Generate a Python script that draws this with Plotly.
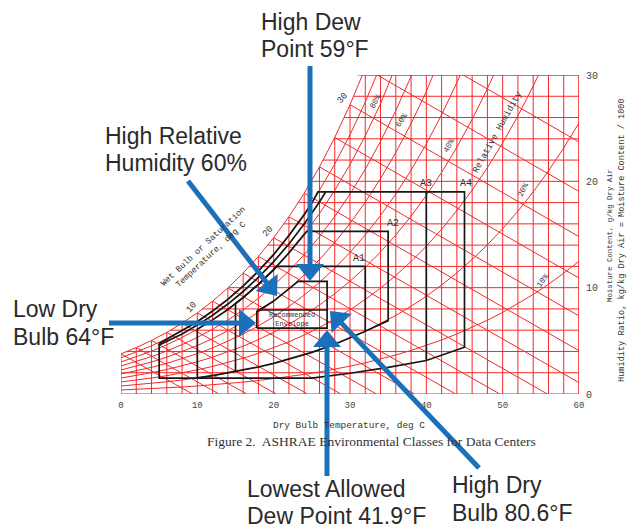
import math
import plotly.graph_objects as go

# ---------------- data ----------------
# saturation vapour pressure table (kPa) at dry-bulb temperatures (deg C)
PSAT_T = list(range(0, 62, 2))
PSAT_KPA = [0.6113, 0.7060, 0.8135, 0.9353, 1.0729, 1.2281, 1.4028, 1.5989, 1.8188,
            2.0647, 2.3392, 2.6452, 2.9856, 3.3637, 3.7828, 4.2467, 4.7592, 5.3247,
            5.9479, 6.6328, 7.3849, 8.2096, 9.1124, 10.099, 11.177, 12.352, 13.631,
            15.022, 16.533, 18.171, 19.946]
P_ATM = 101.325

DRY_BULB_GRID = list(range(0, 62, 2))        # vertical red lines
MOISTURE_GRID = list(range(0, 32, 2))        # horizontal red lines (g/kg)
RH_LINES = [0.1, 0.2, 0.3, 0.4, 0.5, 0.6, 0.7, 0.8, 0.9]
WET_BULB_LINES = list(range(0, 36, 2))

X_TICKS = [0, 10, 20, 30, 40, 50, 60]
Y_TICKS = [0, 10, 20, 30]

# ASHRAE class envelopes (dry bulb deg C, moisture g/kg)
A4_T = [5, 8, 10, 12, 14, 16, 18, 20, 22, 24, 25, 25.8, 45, 45, 40, 35, 30, 25, 5, 5]
A4_W = [4.75, 5.95, 6.8, 7.8, 8.9, 10.15, 11.55, 13.1, 14.9, 16.85, 17.95, 19.0, 19.0,
        4.4, 3.15, 2.5, 1.95, 1.5, 1.5, 4.75]
A3_T = [5, 8, 10, 12, 14, 16, 18, 20, 22, 24, 26, 26.8, None, 40, 40]
A3_W = [4.6, 5.65, 6.48, 7.41, 8.46, 9.64, 10.96, 12.45, 14.11, 15.98, 18.06, 19.0, None, 19.0, 3.15]
A2_T = [10, 10, 12, 14, 16, 18, 20, 22, 24, 24.35, 35, 35, 32, 30, 28, 25, 22, 20, 18, 15, 12, 10]
A2_W = [1.51, 6.09, 6.97, 7.95, 9.06, 10.31, 11.7, 13.27, 15.01, 15.3, 15.3, 6.9, 5.9, 5.26,
        4.68, 3.91, 3.26, 2.88, 2.54, 2.1, 1.73, 1.51]
A1_T = [15, 15, 16, 18, 20, 20.4, 32, 32]
A1_W = [2.1, 8.51, 9.06, 10.31, 11.7, 12.0, 12.0, 5.9]
REC_T = [17.8, 17.8, 20, 22, 23.2, 27, 27, 17.8, None, 17.8, 27]
REC_W = [6.2, 7.75, 8.74, 9.9, 10.6, 10.6, 6.2, 6.2, None, 7.9, 7.9]

CLASS_LABELS = ["A1", "A2", "A3", "A4"]
CLASS_LABEL_T = [31.2, 35.6, 40.0, 45.2]
CLASS_LABEL_W = [12.7, 16.05, 19.8, 19.8]

WB_LABELS = ["10", "20", "30"]
WB_LABEL_T = [9.3, 19.26, 29.08]
WB_LABEL_W = [8.18, 15.24, 27.84]

RH_LABELS = ["80%", "60%", "40%", "20%", "10%"]
RH_LABEL_T = [33.3, 36.8, 42.9, 52.7, 55.2]
RH_LABEL_W = [27.5, 25.8, 23.4, 19.2, 10.7]
RH_LABEL_ANG = [-62, -57, -62, -63, -53]

# callout lines: text, left edge pixel, baseline pixel
CALLOUT_LINES = [("High Dew", 260, 30), ("Point 59°F", 260, 57),
                 ("High Relative", 104, 144), ("Humidity 60%", 104, 171.5),
                 ("Low Dry", 12, 317.5), ("Bulb 64°F", 12, 345),
                 ("Lowest Allowed", 246, 497.3), ("Dew Point 41.9°F", 246, 524),
                 ("High Dry", 451, 493.5), ("Bulb 80.6°F", 451, 521)]

# ---------------- layout constants ----------------
W_PX, H_PX = 629, 529
L, R, T, B = 121, 50, 75, 135
PW, PH = W_PX - L - R, H_PX - T - B
RED = "rgb(246,40,40)"
BLACK = "#161616"
BLUE = "#1b71b9"
TXT = "#333333"
MONO = "Liberation Mono, DejaVu Sans Mono, monospace"
CALLOUT_SIZE = 23


def wsat(p):
    return 622.0 * p / (P_ATM - p)


def px(x):
    return (x - L) / PW


def py(y):
    return (H_PX - B - y) / PH


WS = [wsat(p) for p in PSAT_KPA]

fig = go.Figure()

# vertical dry-bulb lines
xs, ys = [], []
for i, t in enumerate(DRY_BULB_GRID):
    xs += [t, t, None]
    ys += [0, min(WS[i], 31), None]
# horizontal moisture lines
for w in MOISTURE_GRID:
    xs += [0, 60, None]
    ys += [w, w, None]
# relative humidity curves
for phi in RH_LINES:
    xs += PSAT_T + [None]
    ys += [622.0 * phi * p / (P_ATM - phi * p) for p in PSAT_KPA] + [None]
# wet bulb lines
for tw in WET_BULB_LINES:
    p = PSAT_KPA[PSAT_T.index(tw)]
    Ws = 0.622 * p / (P_ATM - p)
    t_end = tw + (2501 - 2.326 * tw) * Ws / 1.006
    xs += [tw, t_end, None]
    ys += [Ws * 1000, 0, None]
fig.add_trace(go.Scatter(x=xs, y=ys, mode="lines", line=dict(color=RED, width=1),
                         hoverinfo="skip", showlegend=False))

# white mask above saturation curve
n = PSAT_T.index(32) + 1
fig.add_trace(go.Scatter(x=PSAT_T[:n] + [32, 0], y=WS[:n] + [45, 45], mode="lines",
                         fill="toself", fillcolor="white", line=dict(width=0),
                         hoverinfo="skip", showlegend=False))
# saturation curve
fig.add_trace(go.Scatter(x=PSAT_T[:n], y=WS[:n], mode="lines", line=dict(color=RED, width=1),
                         hoverinfo="skip", showlegend=False))
# top and right border
fig.add_trace(go.Scatter(x=[31, 60, 60], y=[30, 30, 0], mode="lines",
                         line=dict(color=RED, width=1.2), hoverinfo="skip", showlegend=False))

# class envelopes
for tx, wy in [(A4_T, A4_W), (A3_T, A3_W), (A2_T, A2_W), (A1_T, A1_W), (REC_T, REC_W)]:
    fig.add_trace(go.Scatter(x=tx, y=wy, mode="lines", line=dict(color=BLACK, width=1.7),
                             hoverinfo="skip", showlegend=False))

ann = []


def note(x, y, text, size, ref="data", angle=0, family=MONO, color=TXT, xa="center", ya="middle"):
    if ref == "data":
        d = dict(x=x, y=y, xref="x", yref="y")
    else:
        d = dict(x=px(x), y=py(y), xref="paper", yref="paper")
    d.update(text=text, showarrow=False, textangle=angle, xanchor=xa, yanchor=ya,
             font=dict(family=family, size=size, color=color))
    ann.append(d)


for lab, t, w in zip(CLASS_LABELS, CLASS_LABEL_T, CLASS_LABEL_W):
    note(t, w, lab, 10)
for lab, t, w in zip(WB_LABELS, WB_LABEL_T, WB_LABEL_W):
    note(t, w, lab, 9, angle=-50)
for lab, t, w, a in zip(RH_LABELS, RH_LABEL_T, RH_LABEL_W, RH_LABEL_ANG):
    note(t, w, lab, 8, angle=a)
note(49.4, 24.6, "Relative Humidity", 9, angle=-61)
note(11.3, 13.5, "Wet Bulb or Saturation<br>Temperature, deg C", 8.5, angle=-43)
note(22.4, 7.05, "Recommended<br>Envelope", 7)

# axis titles and caption (pixel positions)
note(349, 425, "Dry Bulb Temperature, deg C", 9.4, ref="paper")
note(371, 442, "Figure 2.  ASHRAE Environmental Classes for Data Centers", 13.5, ref="paper",
     family="Liberation Serif, Times New Roman, serif")
note(610, 236, "Moisture Content, g/kg Dry Air", 7.4, ref="paper", angle=-90)
note(622, 240, "Humidity Ratio, kg/kg Dry Air = Moisture Content / 1000", 8.6, ref="paper", angle=-90)

# callout texts: one annotation per line, centred vertically on the cap height
for txt, x, base in CALLOUT_LINES:
    note(x - 1, base - 0.36 * CALLOUT_SIZE, txt, CALLOUT_SIZE, ref="paper",
         family="Liberation Sans, Arial, sans-serif", color="#2a2a2a", xa="left")

# arrows (pixel coords: tail -> tip)
ARROWS = [((310, 66), (310, 281)), ((188, 181), (277, 296)), ((109, 323), (256, 323)),
          ((327, 476), (327, 330)), ((479, 468), (330, 311))]
shapes = []
HL, HW = 17, 28
for (x0, y0), (x1, y1) in ARROWS:
    dx, dy = x1 - x0, y1 - y0
    ln = math.hypot(dx, dy)
    ux, uy = dx / ln, dy / ln
    bx, by = x1 - ux * HL, y1 - uy * HL
    nx, ny = -uy, ux
    shapes.append(dict(type="line", xref="paper", yref="paper", x0=px(x0), y0=py(y0),
                       x1=px(bx + ux), y1=py(by + uy), line=dict(color=BLUE, width=5)))
    lx, ly = bx + nx * HW / 2, by + ny * HW / 2
    rx, ry = bx - nx * HW / 2, by - ny * HW / 2
    path = f"M {px(x1)},{py(y1)} L {px(lx)},{py(ly)} L {px(rx)},{py(ry)} Z"
    shapes.append(dict(type="path", xref="paper", yref="paper", path=path,
                       fillcolor=BLUE, line=dict(width=0)))

fig.update_layout(
    width=W_PX, height=H_PX, margin=dict(l=L, r=R, t=T, b=B),
    paper_bgcolor="white", plot_bgcolor="white", showlegend=False,
    annotations=ann, shapes=shapes,
    xaxis=dict(range=[0, 60], tickvals=X_TICKS, showgrid=False, zeroline=False, showline=False,
               ticks="", ticklabelstandoff=4, tickfont=dict(family=MONO, size=9, color="#444"),
               fixedrange=True),
    yaxis=dict(range=[0, 30], tickvals=Y_TICKS, side="right", showgrid=False, zeroline=False,
               showline=False, ticks="", ticklabelstandoff=6,
               tickfont=dict(family=MONO, size=10, color="#444"), fixedrange=True),
)

fig.write_html("out.html", config={"displayModeBar": False},
               post_script="document.body.style.margin='0';document.body.style.overflow='hidden';")
